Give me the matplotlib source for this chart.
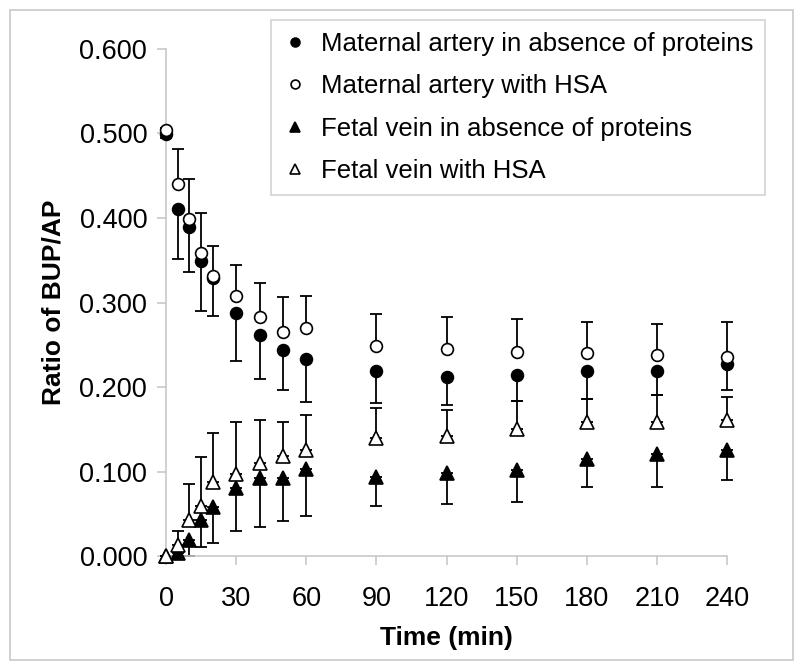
import matplotlib.pyplot as plt
import numpy as np
from matplotlib.patches import Rectangle

plt.rcParams["font.family"] = ["Liberation Sans", "DejaVu Sans"]

time_min = [0, 5, 10, 15, 20, 30, 40, 50, 60, 90, 120, 150, 180, 210, 240]

# maternal artery, no proteins (filled circles) - mean and lower bar end
ma_abs = [0.499, 0.411, 0.389, 0.349, 0.329, 0.288, 0.261, 0.244, 0.233,
          0.219, 0.212, 0.214, 0.219, 0.219, 0.227]
ma_abs_low = [0.495, 0.351, 0.336, 0.290, 0.284, 0.231, 0.209, 0.196, 0.182,
              0.181, 0.179, 0.183, 0.186, 0.190, 0.196]

# maternal artery with HSA (open circles) - mean and upper bar end
ma_hsa = [0.504, 0.440, 0.399, 0.358, 0.331, 0.308, 0.283, 0.265, 0.270,
          0.249, 0.245, 0.242, 0.240, 0.238, 0.236]
ma_hsa_high = [0.507, 0.482, 0.446, 0.406, 0.367, 0.344, 0.323, 0.307, 0.308,
               0.286, 0.283, 0.281, 0.277, 0.275, 0.277]

# fetal vein, no proteins (filled triangles) - mean and lower bar end
fv_abs = [0.000, 0.004, 0.019, 0.043, 0.058, 0.080, 0.092, 0.092, 0.103,
          0.093, 0.098, 0.102, 0.115, 0.121, 0.126]
fv_abs_low = [0.000, 0.000, 0.000, 0.011, 0.016, 0.030, 0.034, 0.041, 0.047,
              0.059, 0.062, 0.064, 0.082, 0.082, 0.090]

# fetal vein with HSA (open triangles) - mean and upper bar end
fv_hsa = [0.000, 0.013, 0.043, 0.059, 0.088, 0.097, 0.110, 0.118, 0.125,
          0.140, 0.142, 0.150, 0.159, 0.159, 0.161]
fv_hsa_high = [0.000, 0.030, 0.085, 0.117, 0.146, 0.159, 0.161, 0.159, 0.167,
               0.175, 0.173, 0.183, 0.186, 0.190, 0.188]

labels = [
    "Maternal artery in absence of proteins",
    "Maternal artery with HSA",
    "Fetal vein in absence of proteins",
    "Fetal vein with HSA",
]

fig = plt.figure(figsize=(8, 6.7), dpi=100)
ax = fig.add_axes([0.2075, 0.170, 0.7015, 0.757])

t = np.array(time_min)
series = [
    (ma_abs, ma_abs_low, "o", "black", 8.5, "low"),
    (ma_hsa, ma_hsa_high, "o", "white", 8.5, "high"),
    (fv_abs, fv_abs_low, "^", "black", 9.5, "low"),
    (fv_hsa, fv_hsa_high, "^", "white", 9.5, "high"),
]

handles = []
for (mean, bound, marker, face, ms, side), label in zip(series, labels):
    mean = np.array(mean)
    bound = np.array(bound)
    zero = np.zeros_like(mean)
    if side == "low":
        yerr = [mean - bound, zero]
    else:
        yerr = [zero, bound - mean]
    ax.errorbar(t, mean, yerr=yerr, fmt="none", ecolor="black",
                elinewidth=1.3, capsize=4.5, capthick=1.3, zorder=2,
                clip_on=False)
    h, = ax.plot(t, mean, linestyle="none", marker=marker, markersize=ms,
                 markerfacecolor=face, markeredgecolor="black",
                 markeredgewidth=1.2, zorder=3, clip_on=False, label=label)
    handles.append(h)

ax.set_xlim(0, 240)
ax.set_ylim(0, 0.6)
ax.set_xticks([0, 30, 60, 90, 120, 150, 180, 210, 240])
ax.set_yticks(np.arange(0, 0.61, 0.1))
ax.set_yticklabels([f"{v:.3f}" for v in np.arange(0, 0.61, 0.1)])

for side in ("top", "right"):
    ax.spines[side].set_visible(False)
for side in ("left", "bottom"):
    ax.spines[side].set_color("#c8c8c8")
    ax.spines[side].set_linewidth(1.2)

ax.tick_params(axis="both", colors="#c8c8c8", labelcolor="black",
               labelsize=19.5, length=6.5, width=1.2)
ax.tick_params(axis="y", pad=7)
ax.tick_params(axis="x", pad=15)

ax.set_xlabel("Time (min)", fontsize=19, fontweight="bold", labelpad=10)
ax.set_ylabel("Ratio of BUP/AP", fontsize=19, fontweight="bold", labelpad=10)

leg = fig.legend(handles=handles, loc="upper right",
                 bbox_to_anchor=(0.956, 0.970), fontsize=18.5,
                 frameon=True, fancybox=False, borderaxespad=0,
                 handlelength=1.0, handletextpad=0.5, labelspacing=0.72,
                 borderpad=0.45, markerscale=0.75)
leg.get_frame().set_edgecolor("#c8c8c8")
leg.get_frame().set_linewidth(1.2)

fig.patches.append(Rectangle((0.0125, 0.0149), 0.9787, 0.9702,
                             transform=fig.transFigure, fill=False,
                             edgecolor="#c8c8c8", linewidth=1.2))

fig.savefig("out.png", dpi=100)
